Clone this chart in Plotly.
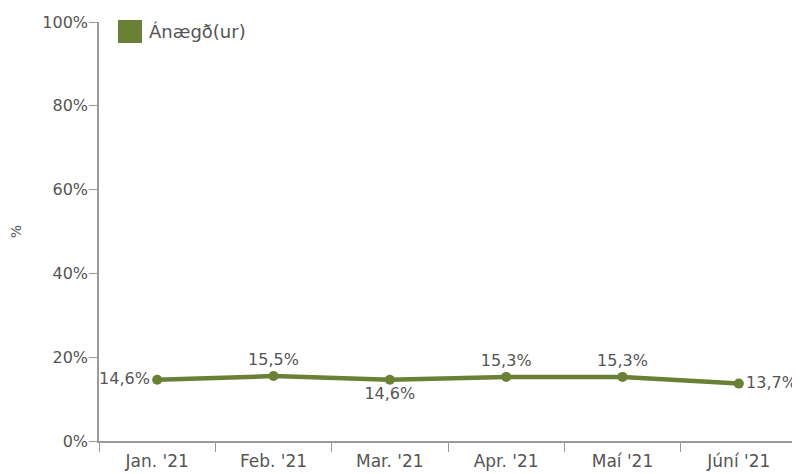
import plotly.graph_objects as go

months = ["Jan. '21", "Feb. '21", "Mar. '21", "Apr. '21", "Maí '21", "Júní '21"]
satisfied = [14.6, 15.5, 14.6, 15.3, 15.3, 13.7]
label_pos = ["middle left", "top center", "bottom center", "top center", "top center", "middle right"]
series_name = "Ánægð(ur)"
y_ticks = [0, 20, 40, 60, 80, 100]
y_ticktext = [f"{v}%" for v in y_ticks]

green = "#6a8035"
text_color = "#555555"
axis_color = "#9a9a9a"
font_family = "DejaVu Sans"

# figure is placed 8px from the page edge (body margin), so size/margins compensate
W, H = 792, 466
ML, MR, MT, MB = 91, 3, 14, 33
PW, PH = W - ML - MR, H - MT - MB

fig = go.Figure()
fig.add_trace(go.Scatter(
    x=months, y=satisfied, mode="lines+markers+text", name=series_name,
    line=dict(color=green, width=4.5),
    marker=dict(color=green, size=10),
    text=[f"{v:.1f}%".replace(".", ",") for v in satisfied],
    textposition=label_pos,
    textfont=dict(size=16, color=text_color, family=font_family),
    showlegend=False, cliponaxis=False,
))

# legend drawn as a swatch + label at the reference position
fig.add_shape(type="rect", xref="paper", yref="paper",
              x0=19/PW, x1=43/PW, y0=(PH-43+22)/PH, y1=(PH-20+22)/PH,
              fillcolor=green, line=dict(width=0))
fig.add_annotation(xref="paper", yref="paper", x=48/PW, y=(PH-31+22)/PH,
                   xanchor="left", yanchor="middle", showarrow=False,
                   text=series_name, font=dict(size=18, color=text_color, family=font_family))

fig.update_layout(
    width=W, height=H,
    margin=dict(l=ML, r=MR, t=MT, b=MB, autoexpand=False),
    plot_bgcolor="white", paper_bgcolor="white",
    font=dict(family=font_family, size=16, color=text_color),
    showlegend=False,
    xaxis=dict(range=[-0.5, 5.5], showline=True, linecolor=axis_color, linewidth=1.5, automargin=False,
               ticks="outside", tickson="boundaries", ticklen=9, tickcolor=axis_color,
               ticklabelstandoff=4,
               showgrid=False, tickfont=dict(size=17, color=text_color)),
    yaxis=dict(range=[0, 100], tickvals=y_ticks, ticktext=y_ticktext, automargin=False,
               showline=True, linecolor=axis_color, linewidth=1.5,
               ticks="outside", ticklen=8, tickcolor=axis_color,
               ticklabelstandoff=-2,
               showgrid=False, zeroline=False,
               title=dict(text="%", font=dict(size=14, color=text_color), standoff=18),
               tickfont=dict(size=16, color=text_color)),
)
fig.write_html("out.html")
